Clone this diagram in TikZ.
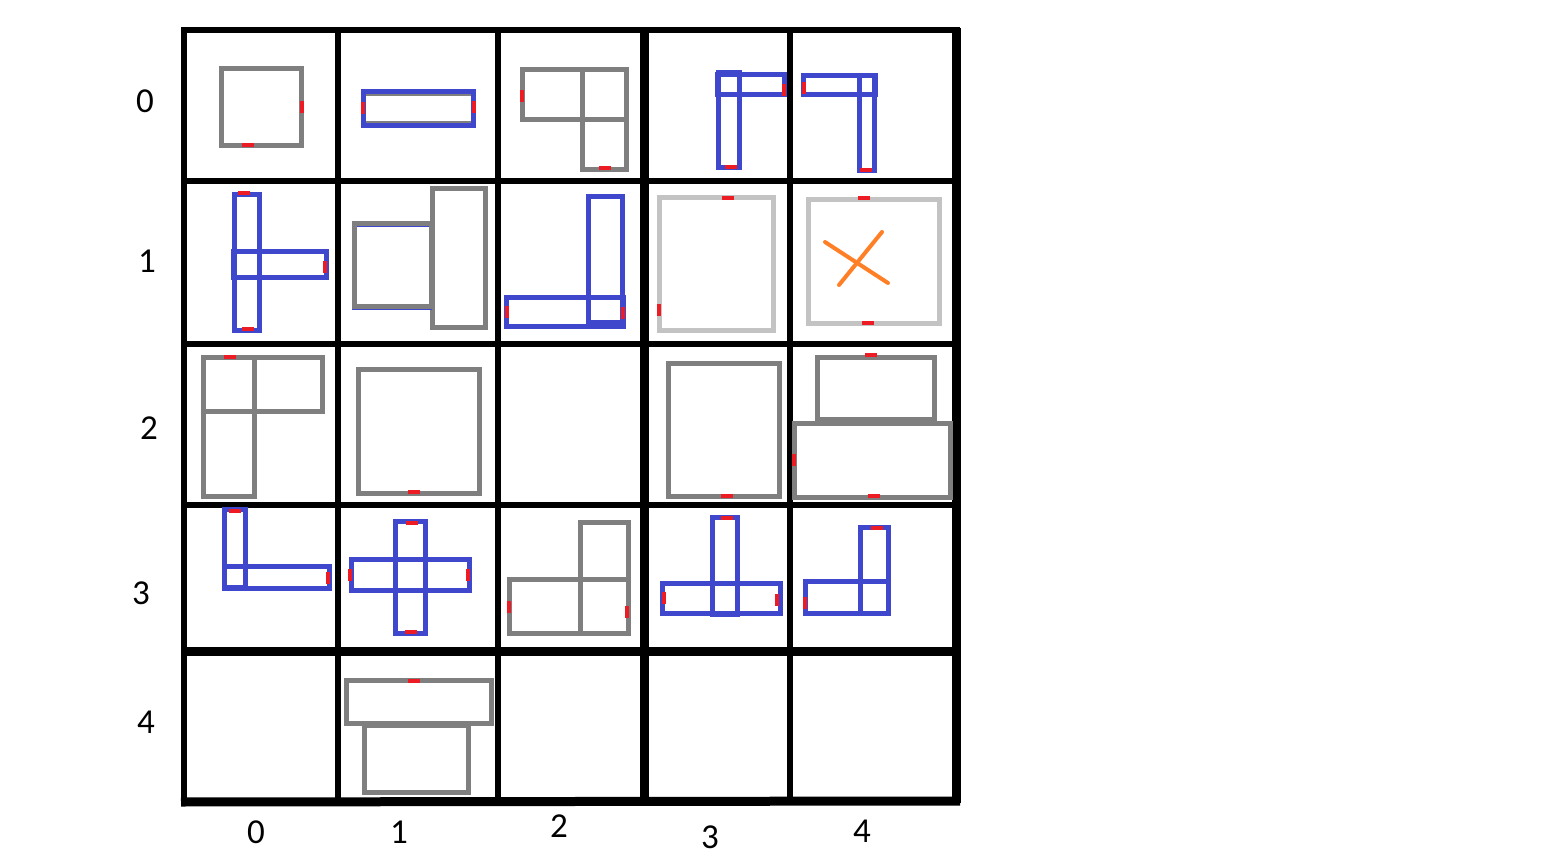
\documentclass[tikz,border=0pt]{standalone}
\usepackage{fontspec}
\setmainfont{Carlito}
\definecolor{shapegray}{HTML}{7F7F7F}
\definecolor{shapeblue}{HTML}{3F48CC}
\definecolor{lightgr}{HTML}{C3C3C3}
\definecolor{xorange}{HTML}{FF7F27}
\definecolor{markred}{HTML}{ED1C24}
\newcommand\mkh[2]{\draw[redmark] ({#1-6},#2)--({#1+6},#2);}
\newcommand\mkv[2]{\draw[redmark] (#1,{#2-6})--(#1,{#2+6});}
\begin{document}
\begin{tikzpicture}[x=0.5pt,y=-0.5pt,
  gridline/.style={line width=3pt,black},
  thickgrid/.style={line width=4.5pt,black},
  gs/.style={draw=shapegray,line width=2.5pt,line join=miter},
  bs/.style={draw=shapeblue,line width=2.5pt,line join=miter},
  ls/.style={draw=lightgr,line width=2.5pt,line join=miter},
  os/.style={draw=xorange,line width=2pt,line cap=round},
  redmark/.style={draw=markred,line width=1.6pt},
  lbl/.style={font=\fontsize{17.5}{20}\selectfont,inner sep=0pt}]
\fill[white] (0,0) rectangle (1544,862);
\useasboundingbox (0,0) rectangle (1544,862);
% grid
\draw[gridline] (181,30)--(960,30);
\draw[gridline] (181,181)--(957,181);
\draw[gridline] (181,343.5)--(957,343.5);
\draw[gridline] (181,504.5)--(960,504.5);
\draw[thickgrid] (181,651)--(960,651);
\draw[thickgrid] (181,802)--(960,801);
\draw[gridline] (184,28)--(184,805);
\draw[gridline] (338,28)--(338,804);
\draw[gridline] (498,28)--(498,803);
\draw[thickgrid] (644.5,28)--(644.5,802);
\draw[gridline] (790,28)--(790,801);
\draw[thickgrid] (956,28)--(956,803);
% labels
\node[lbl] (r0) at (145,101) {0};
\node[lbl] (r1) at (147,261) {1};
\node[lbl] (r2) at (149,428) {2};
\node[lbl] (r3) at (141,593) {3};
\node[lbl] (r4) at (146,722) {4};
\node[lbl] (c0) at (256,832) {0};
\node[lbl] (c1) at (399,832) {1};
\node[lbl] (c2) at (559,826) {2};
\node[lbl] (c3) at (710,837) {3};
\node[lbl] (c4) at (862,831) {4};
% row 0
\draw[gs] (221.5,68.5) rectangle (301.5,145.5);
\draw[shapegray,line width=1pt] (366,95)--(471,95) (366,121.7)--(471,121.7);
\draw[bs] (363.5,91.5) rectangle (473.5,125.5);
\draw[gs] (522.5,69.5) rectangle (582.5,119.5);
\draw[gs] (582.5,69.5) rectangle (626.5,119.5);
\draw[gs] (582.5,119.5) rectangle (626.5,169.5);
\draw[bs] (718.5,72.5) rectangle (739.5,167.5);
\draw[bs] (717.5,74.5) rectangle (784.5,94);
\draw[bs] (803.5,75.5) rectangle (875.5,94.5);
\draw[bs] (859.5,75.5) rectangle (874.5,170.5);
% row 1
\draw[bs] (234.5,194.5) rectangle (259.5,330.5);
\draw[bs] (233.5,251.5) rectangle (326.5,277.5);
\draw[gs] (354.5,223.5) rectangle (431.5,306.5);
\draw[gs] (432.5,188.5) rectangle (485.5,327.5);
\draw[shapeblue,line width=0.5pt] (357,226.3)--(429,226.3) (352,309)--(432,309);
\draw[bs] (506.5,297.5) rectangle (623.5,326.5);
\draw[bs] (588.5,196.5) rectangle (622.5,322.5);
\draw[ls] (659.5,197.5) rectangle (773.5,330.5);
\draw[ls] (808.5,199.5) rectangle (939.5,323.5);
\draw[os] (825,242)--(888,283);
\draw[os] (882,232)--(839,285);
% row 2
\draw[gs] (203.5,357.5) rectangle (322.5,411.5);
\draw[gs] (203.5,411.5) rectangle (254.5,496.5);
\draw[gs] (254.5,357.5)--(254.5,411.5);
\draw[gs] (358.5,369.5) rectangle (479.5,493.5);
\draw[gs] (668.5,363.5) rectangle (779.5,496.5);
\draw[gs] (817.5,357.5) rectangle (934.5,419.5);
\draw[gs] (794.5,423.5) rectangle (950.5,497.5);
% row 3
\draw[bs] (224.5,509.5) rectangle (245.5,587.5);
\draw[bs] (224.5,566.5) rectangle (329.5,588.5);
\draw[bs] (395.5,521.5) rectangle (425.5,633.5);
\draw[bs] (351.5,559.5) rectangle (469.5,590.5);
\draw[gs] (580.5,522.5) rectangle (628.5,633.5);
\draw[gs] (509.5,579.5) rectangle (628.5,633.5);
\draw[bs] (712.5,517.5) rectangle (737.5,614.5);
\draw[bs] (662.5,583.5) rectangle (780.5,613.5);
\draw[bs] (860.5,527.5) rectangle (888.5,613.5);
\draw[bs] (805.5,581.5) rectangle (888.5,613.5);
% row 4
\draw[gs] (346.5,680.5) rectangle (491,723.5);
\draw[gs] (364.5,725) rectangle (468.5,792.5);
% red marks
\mkh{248}{145} \mkv{302}{107}
\mkv{363}{108} \mkv{474}{107}
\mkv{522}{96} \mkh{605}{168}
\mkh{731}{167} \mkv{784}{90}
\mkv{804}{88} \mkh{866}{170}
\mkh{244}{193} \mkv{325}{267} \mkh{248}{329}
\mkv{507}{312} \mkv{623}{313}
\mkh{728}{198} \mkv{659}{310}
\mkh{864}{198} \mkh{868}{323}
\mkh{230}{357}
\mkh{414}{492}
\mkh{727}{496}
\mkh{871}{355} \mkv{794}{460} \mkh{874}{496}
\mkh{235}{511} \mkv{328}{578}
\mkh{412}{523} \mkv{350}{575} \mkv{468}{575} \mkh{411}{632}
\mkv{509}{607} \mkv{627}{612}
\mkh{727}{518} \mkv{664}{598} \mkv{777}{600}
\mkh{877}{528} \mkv{805}{603}
\mkh{414}{681}
\end{tikzpicture}
\end{document}
